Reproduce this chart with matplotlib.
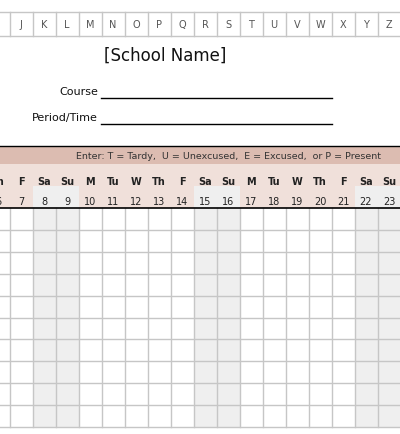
import matplotlib
matplotlib.use("Agg")
import matplotlib.pyplot as plt
from matplotlib.patches import Rectangle

col_letters = ["J", "K", "L", "M", "N", "O", "P", "Q", "R", "S", "T", "U", "V", "W", "X", "Y", "Z"]
day_names = ["Th", "F", "Sa", "Su", "M", "Tu", "W", "Th", "F", "Sa", "Su",
             "M", "Tu", "W", "Th", "F", "Sa", "Su"]
day_nums = [6, 7, 8, 9, 10, 11, 12, 13, 14, 15, 16, 17, 18, 19, 20, 21, 22, 23]
title = "[School Name]"
labels = ["Course", "Period/Time"]
legend_text = "Enter: T = Tardy,  U = Unexcused,  E = Excused,  or P = Present"
n_rows = 10

plt.rcParams["font.family"] = ["DejaVu Sans"]
fig = plt.figure(figsize=(4, 4.35), dpi=100)
ax = fig.add_axes([0, 0, 1, 1])
ax.set_xlim(0, 400)
ax.set_ylim(435, 0)
ax.axis("off")

x0 = 9.5   # left edge of column J
cw = 23
grid_c = "#c6c6c6"

# column letter header
ax.plot([0, 400], [13, 13], color=grid_c, lw=1)
ax.plot([0, 400], [37, 37], color=grid_c, lw=1)
for i, letter in enumerate(col_letters):
    ax.text(x0 + cw * i + cw / 2, 25, letter, ha="center", va="center", fontsize=7, color="#555555")
for i in range(len(col_letters) + 1):
    ax.plot([x0 + cw * i] * 2, [13, 37], color=grid_c, lw=1)

ax.text(165, 56, title, ha="center", va="center", fontsize=12, color="#111111")
for label, y in zip(labels, [92, 118]):
    ax.text(98, y, label, ha="right", va="center", fontsize=8, color="#111111")
    ax.plot([101, 332], [y + 7, y + 7], color="black", lw=1)

# legend bar
ax.add_patch(Rectangle((0, 147), 400, 18, color="#dcbcb1", lw=0))
ax.plot([0, 400], [147, 147], color="black", lw=1)
ax.text(228, 157, legend_text, ha="center", va="center", fontsize=6.8, color="#333333")

# day rows and grid
grid_top = 209
row_h = 21.9
grid_bot = grid_top + row_h * n_rows
ax.add_patch(Rectangle((0, 165), 400, 44, color="#f0e0da", lw=0))
for i, (d, n) in enumerate(zip(day_names, day_nums)):
    left = x0 + cw * (i - 1)
    cx = left + cw / 2
    if d in ("Sa", "Su"):
        ax.add_patch(Rectangle((left, 187), cw, grid_bot - 187, color="#efefef", lw=0))
    ax.text(cx, 182, d, ha="center", va="center", fontsize=7, fontweight="bold", color="#222222")
    ax.text(cx, 202, str(n), ha="center", va="center", fontsize=7, color="#222222")
    ax.plot([left + cw] * 2, [grid_top, grid_bot], color=grid_c, lw=1)
for r in range(1, n_rows + 1):
    ax.plot([0, 400], [grid_top + row_h * r] * 2, color=grid_c, lw=1)
ax.plot([0, 400], [grid_top, grid_top], color="black", lw=1.2)

fig.savefig("out.png", dpi=100)
